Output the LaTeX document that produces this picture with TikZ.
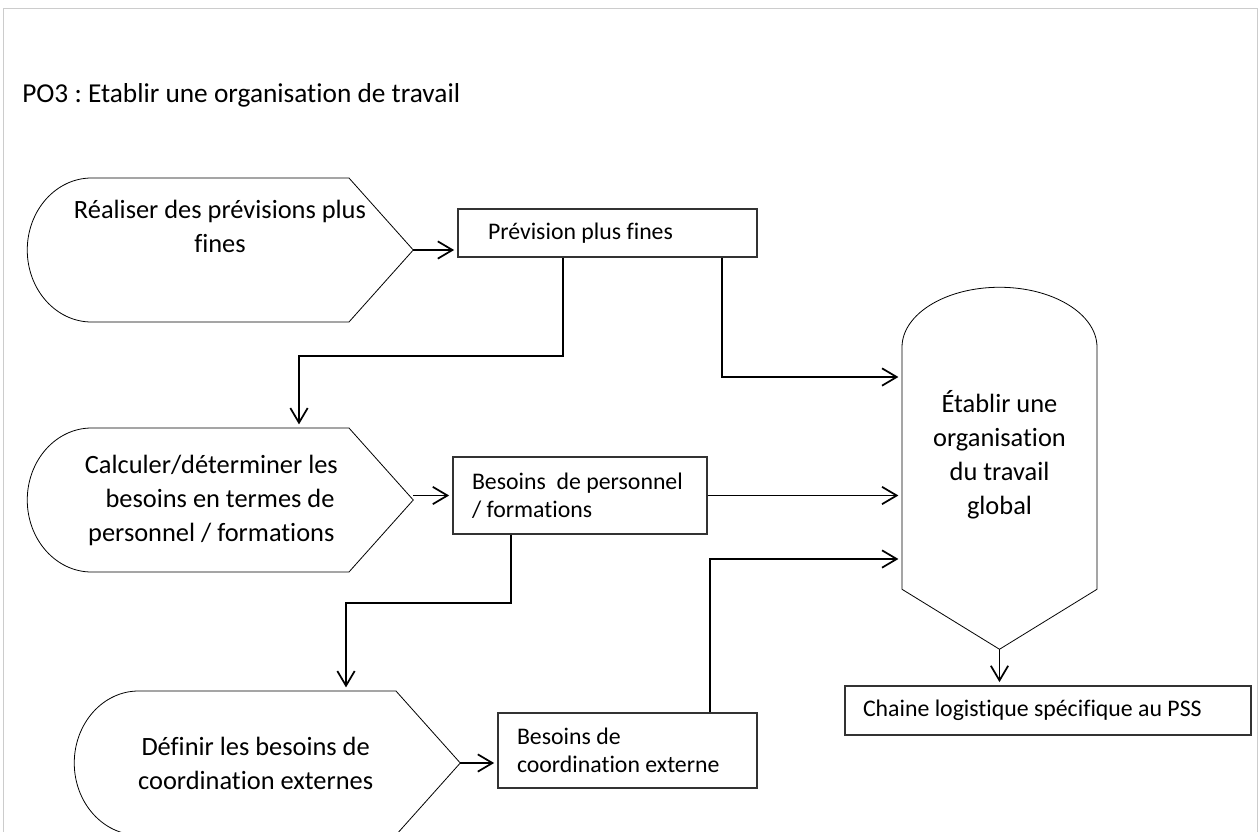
\documentclass[tikz,border=0pt]{standalone}
\usepackage{fontspec}
\setmainfont{Carlito}[Ligatures=NoCommon]
\usetikzlibrary{arrows.meta,positioning}
\frenchspacing

\newcommand{\titlefont}{\fontsize{20.5}{24}\selectfont}
\newcommand{\shapefont}{\fontsize{19.8}{25.5}\selectfont}
\newcommand{\boxfont}{\fontsize{17.85}{21}\selectfont}

\begin{document}
\begin{tikzpicture}[
  x=0.75pt, y=0.75pt, yscale=-1,
  outline/.style={draw=black, line width=0.6pt},
  display/.style={minimum width=289.5pt, minimum height=108pt, inner sep=0pt,
                  align=center, font=\shapefont},
  tank/.style={minimum width=146.25pt, minimum height=271.5pt, inner sep=0pt,
               align=center, font=\shapefont},
  infobox/.style={draw=black!80, line width=0.8pt, align=flush left, font=\boxfont,
                  inner ysep=0pt},
  arr/.style={-{Straight Barb[length=11pt,width=13pt]}, line width=1.3pt,
              shorten >=2.5pt}
]
\useasboundingbox (0,0) rectangle (1258,832);
\draw[black!20, line width=0.75pt] (3,840) -- (3,8) -- (1257,8) -- (1257,840);

\node[anchor=base west, inner sep=0pt, font=\titlefont] (title) at (22,102)
  {PO3 : Etablir une organisation de travail};

% processus
\node[display] (rea) at (220,250) {Réaliser des prévisions plus\\fines\\[10.5pt]\mbox{}};
\node[display] (cal) at (220,500)
  {Calculer/déterminer les\hspace*{13pt}\\besoins en termes de\hspace*{13pt}\\personnel / formations\hspace*{13pt}};
\node[display] (coord) at (267,763)
  {Définir les besoins de\hspace*{17pt}\\coordination externes\hspace*{17pt}};
\node[tank] (etab) at (999.5,468) {Établir une\\organisation\\du travail\\global\\[-2pt]\mbox{}};

\foreach \n in {rea,cal,coord}
  \draw[outline] (\n.east) -- ++(-64.3,-72) -- ++(-257.4,0)
    arc[start angle=270, end angle=90, x radius=64.3, y radius=72]
    -- ++(257.4,0) -- cycle;
\draw[outline] (etab.south) -- ++(-97.5,-60) -- ++(0,-242)
  arc[start angle=180, end angle=360, x radius=97.5, y radius=60]
  -- ++(0,242) -- cycle;

% sorties
\node[infobox, minimum height=36pt, inner xsep=22.5pt, text width=179.25pt]
  (prev) at (607.5,233) {Prévision plus fines};
\node[infobox, minimum height=57.75pt, inner xsep=14.25pt, text width=162pt]
  (prsn) at (580,495.5) {Besoins~ de personnel\\/ formations};
\node[infobox, minimum height=56.25pt, inner xsep=14.25pt, text width=165.75pt]
  (ext) at (627.5,750.5) {Besoins de\\coordination externe};
\node[infobox, minimum height=36.75pt, inner xsep=13.5pt, text width=277.5pt]
  (chaine) at (1048,710.5) {Chaine logistique spécifique au PSS};

% coudes
\coordinate (b1) at (563,356);
\coordinate (b2) at (299,356);
\coordinate (b3) at (722,377);
\coordinate (b4) at (511,603);
\coordinate (b5) at (346,603);
\coordinate (b6) at (710,559);

\draw[arr] (rea.east) -- (rea.east -| prev.west);
\draw[arr] (prsn.west -| cal.east) -- (prsn.west);
\draw[arr] (coord.east) -- (coord.east -| ext.west);
\draw[arr] (prev.south -| b1) -- (b1) -- (b2) -- (b2 |- cal.north);
\draw[arr] (prev.south -| b3) -- (b3) -- (b3 -| etab.west);
\draw[arr] (prsn.east) -- (prsn.east -| etab.west);
\draw[arr] (prsn.south -| b4) -- (b4) -- (b5) -- (b5 |- coord.north);
\draw[arr] (ext.north -| b6) -- (b6) -- (b6 -| etab.west);
\draw[arr] (etab.south) -- (etab.south |- chaine.north);
\end{tikzpicture}
\end{document}
